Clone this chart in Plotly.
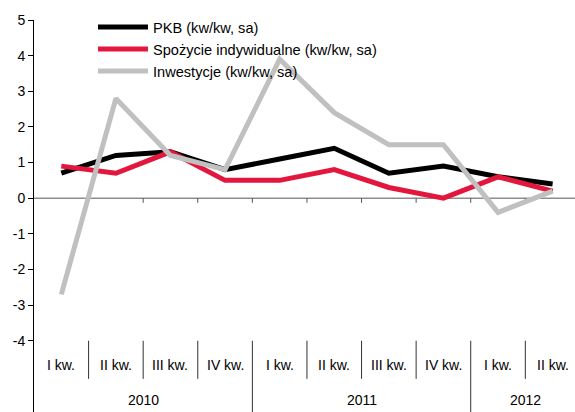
import plotly.graph_objects as go

quarters = ["I kw.", "II kw.", "III kw.", "IV kw.", "I kw.", "II kw.", "III kw.", "IV kw.", "I kw.", "II kw."]
years = ["2010", "2011", "2012"]
year_counts = [4, 4, 2]
pkb = [0.7, 1.2, 1.3, 0.8, 1.1, 1.4, 0.7, 0.9, 0.6, 0.4]
spozycie = [0.9, 0.7, 1.3, 0.5, 0.5, 0.8, 0.3, 0.0, 0.6, 0.2]
inwestycje = [-2.7, 2.8, 1.2, 0.8, 3.9, 2.4, 1.5, 1.5, -0.4, 0.2]
y_ticks = [-4, -3, -2, -1, 0, 1, 2, 3, 4, 5]
y_tick_labels = ["-4", "-3", "-2", "-1", "0", "1", "2", "3", "4", "5"]

xs = list(range(len(quarters)))
font = "Liberation Sans, Arial, sans-serif"

fig = go.Figure()
fig.add_trace(go.Scatter(x=xs, y=pkb, mode="lines", name="PKB (kw/kw, sa)",
                         line=dict(color="#000000", width=5)))
fig.add_trace(go.Scatter(x=xs, y=spozycie, mode="lines", name="Spożycie indywidualne (kw/kw, sa)",
                         line=dict(color="#E3173E", width=5)))
fig.add_trace(go.Scatter(x=xs, y=inwestycje, mode="lines", name="Inwestycje (kw/kw, sa)",
                         line=dict(color="#C0C0C0", width=5)))

shapes = []
annotations = []
# zero axis line with ticks at category boundaries
shapes.append(dict(type="line", xref="x", yref="y", x0=-0.5, x1=9.5, y0=0, y1=0,
                   line=dict(color="#555555", width=1), layer="below"))
for i in range(1, len(quarters) + 1):
    shapes.append(dict(type="line", xref="x", yref="y", x0=i - 0.5, x1=i - 0.5, y0=0, y1=-0.13,
                       line=dict(color="#555555", width=1), layer="below"))
# quarter labels and separators
for i, q in enumerate(quarters):
    annotations.append(dict(x=i, y=-4.68, xref="x", yref="y", text=q, showarrow=False,
                            font=dict(size=14, color="#000000", family=font)))
year_bounds = []
acc = 0
for c in year_counts:
    acc += c
    year_bounds.append(acc)
for i in range(1, len(quarters)):
    if i in year_bounds:
        shapes.append(dict(type="line", xref="x", yref="y", x0=i - 0.5, x1=i - 0.5, y0=-4.0, y1=-6.1,
                           line=dict(color="#333333", width=1)))
    else:
        shapes.append(dict(type="line", xref="x", yref="y", x0=i - 0.5, x1=i - 0.5, y0=-4.0, y1=-5.07,
                           line=dict(color="#333333", width=1)))
start = 0
for yr, c in zip(years, year_counts):
    annotations.append(dict(x=start + (c - 1) / 2, y=-5.65, xref="x", yref="y", text=yr, showarrow=False,
                            font=dict(size=14, color="#000000", family=font)))
    start += c

fig.update_layout(
    width=575, height=412,
    margin=dict(l=34, r=0, t=20, b=0, autoexpand=False),
    paper_bgcolor="white", plot_bgcolor="white",
    font=dict(family=font, size=14, color="#000000"),
    showlegend=True,
    legend=dict(x=0.109, y=1.023, xanchor="left", yanchor="top", bgcolor="rgba(0,0,0,0)",
                font=dict(size=14.6, family=font), tracegroupgap=0, itemwidth=50),
    xaxis=dict(range=[-0.5, 9.41], showgrid=False, zeroline=False, showticklabels=False,
               showline=False, ticks="", automargin=False),
    yaxis=dict(range=[-6.0, 5.0], tickvals=y_ticks, ticktext=y_tick_labels, showgrid=False,
               zeroline=False, automargin=False,
               showline=True, linecolor="#000000", linewidth=1, ticks="outside", ticklen=5,
               tickcolor="#000000", tickfont=dict(size=14, family=font)),
    shapes=shapes, annotations=annotations,
)

fig.write_html("out.html", config={"displayModeBar": False},
               post_script="document.body.style.margin='0';document.body.style.overflow='hidden';")
